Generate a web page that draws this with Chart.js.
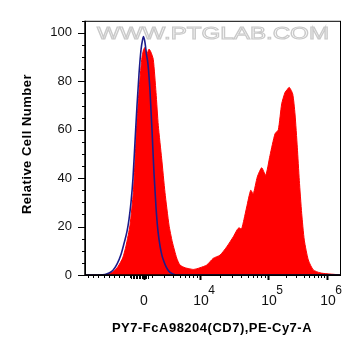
<!DOCTYPE html>
<html>
<head>
<meta charset="utf-8">
<script src="https://cdn.jsdelivr.net/npm/chart.js@4/dist/chart.umd.min.js"></script>
<style>
  html, body { margin: 0; padding: 0; background: #fff; }
  #wrap { width: 361px; height: 356px; position: relative; }
</style>
</head>
<body>
<div id="wrap"><canvas id="c"></canvas></div>
<script>
// ---- data (x in display channels of the biexponential axis, y = relative cell number) ----
const sampleChannels = [0, 20, 23, 28.3, 33, 37.7, 41, 45, 48.3, 50, 51.7, 54, 56.7, 58.5, 60, 62, 64, 66, 68.3, 71, 73.3, 76.7, 80, 84, 87.3, 91.7, 95, 100, 104, 108.3, 112, 115, 121.7, 128.3, 135, 141.7, 148.3, 152.3, 154, 156.5, 159, 161.7, 165.7, 168.3, 172.3, 176.7, 180.7, 185, 190, 193.3, 196.7, 200, 202, 204.3, 207.7, 210, 212.3, 214.3, 216.7, 219.3, 223.3, 228.3, 235, 242, 251, 256];
const sampleCounts   = [0, 0, 0.3, 1.4, 3.5, 7, 12, 20.6, 34, 47, 61.7, 76, 89, 93, 94, 91.5, 93.3, 92, 89, 75.4, 61.7, 48, 34, 20.6, 13.7, 7, 4.1, 3.0, 2.6, 2.3, 2.6, 3.0, 4.1, 6.9, 8.2, 11.6, 15.8, 18.8, 19.5, 19, 23, 28.1, 35, 33.6, 40.5, 44.3, 41.2, 49.4, 58.3, 60, 70.7, 75.4, 76.5, 77.5, 74.8, 66.5, 52.8, 39.1, 25.4, 14.4, 6.2, 2.1, 0.9, 0.5, 0.2, 0];

const controlChannels = [0, 15, 20, 24, 28, 32, 36, 39, 42, 44, 46, 48, 50, 52, 54, 56, 57.5, 58.5, 60, 61.5, 63, 65, 67, 69, 71, 73, 75, 77, 79, 81, 84, 88, 92, 256];
const controlCounts   = [0, 0, 0.2, 0.8, 2, 4.5, 8.5, 13, 18, 23, 30, 40, 55, 70, 83, 93, 97, 98.5, 96, 91, 87, 76, 60, 42, 28, 18, 12, 8, 5.5, 3.5, 1.5, 0.4, 0, 0];

const xTickChannels  = [59, 115, 183, 242];
const xTickBase      = ['0', '10', '10', '10'];
const xTickExponent  = ['', '4', '5', '6'];
const yTicks         = [0, 20, 40, 60, 80, 100];

const xTitle = 'PY7-FcA98204(CD7),PE-Cy7-A';
const yTitle = 'Relative Cell Number';
const watermark = 'WWW.PTGLAB.COM';

const toXY = (xs, ys) => xs.map((x, i) => ({ x: x, y: ys[i] }));

const FONT = '"Liberation Sans", Arial, sans-serif';

const decorPlugin = {
  id: 'decor',
  beforeDatasetsDraw(chart) {
    const { ctx, chartArea: a } = chart;
    ctx.save();
    // watermark
    ctx.font = '17px ' + FONT;
    const w = ctx.measureText(watermark).width;
    const targetW = 232;
    ctx.translate(a.left + 12, a.top + 18);
    ctx.scale(targetW / w, 1);
    ctx.textBaseline = 'alphabetic';
    ctx.fillStyle = '#ffffff';
    ctx.strokeStyle = '#c9c9c9';
    ctx.lineWidth = 1;
    ctx.fillText(watermark, 0, 0);
    ctx.strokeText(watermark, 0, 0);
    ctx.restore();
  },
  afterDraw(chart) {
    const { ctx, chartArea: a, scales } = chart;
    const xs = scales.x, ys = scales.y;
    ctx.save();
    ctx.strokeStyle = '#000';
    ctx.lineWidth = 1;
    // frame
    ctx.strokeRect(a.left + 0.5, a.top + 0.5, a.right - a.left - 1, a.bottom - a.top);
    ctx.lineWidth = 1.5;
    ctx.beginPath();
    ctx.moveTo(a.left, a.bottom); ctx.lineTo(a.right, a.bottom);
    ctx.moveTo(a.left, a.top); ctx.lineTo(a.left, a.bottom);
    ctx.stroke();

    // y ticks (major every 20, minor every 5)
    ctx.lineWidth = 1;
    ctx.beginPath();
    for (let v = 0; v <= ys.max; v += 5) {
      const py = Math.round(ys.getPixelForValue(v)) + 0.5;
      const len = (v % 20 === 0) ? 7 : 3;
      ctx.moveTo(a.left - len, py); ctx.lineTo(a.left, py);
    }
    ctx.stroke();

    // x ticks
    const tick = (ch, len, w) => {
      const px = Math.round(xs.getPixelForValue(ch)) + 0.5;
      ctx.lineWidth = w;
      ctx.beginPath();
      ctx.moveTo(px, a.bottom); ctx.lineTo(px, a.bottom + len);
      ctx.stroke();
    };
    // negative (linear) region
    for (let ch = 3; ch < 46; ch += 5.2) tick(ch, 3, 1);
    // dense region around zero
    for (let ch = 46; ch <= 63; ch += 1.5) tick(ch, 4, 1);
    // log-spaced minor ticks below 10^4 and in the upper decades
    const d = xTickChannels;
    for (let k = 2; k <= 9; k++) {
      tick(d[1] - (d[2] - d[1]) * (1 - Math.log10(k)), 3, 1);
      tick(d[1] + (d[2] - d[1]) * Math.log10(k), 3, 1);
      tick(d[2] + (d[3] - d[2]) * Math.log10(k), 3, 1);
    }
    for (let i = 0; i < d.length; i++) tick(d[i], 5, 2);

    // x tick labels
    ctx.fillStyle = '#111';
    ctx.textBaseline = 'alphabetic';
    for (let i = 0; i < d.length; i++) {
      const px = xs.getPixelForValue(d[i]);
      ctx.font = '14px ' + FONT;
      const bw = ctx.measureText(xTickBase[i]).width;
      ctx.textAlign = 'left';
      const x0 = xTickExponent[i] ? px - bw / 2 + 1 : px - bw / 2;
      ctx.fillText(xTickBase[i], x0, a.bottom + 30);
      if (xTickExponent[i]) {
        ctx.font = '12px ' + FONT;
        ctx.fillText(xTickExponent[i], x0 + bw - 0.5, a.bottom + 19);
      }
    }

    // axis titles
    ctx.fillStyle = '#000';
    ctx.font = 'bold 13px ' + FONT;
    ctx.letterSpacing = '0.5px';
    ctx.textAlign = 'center';
    ctx.textBaseline = 'middle';
    ctx.fillText(xTitle, 212, 328);
    ctx.translate(27, 144);
    ctx.rotate(-Math.PI / 2);
    ctx.fillText(yTitle, 0, 0);
    ctx.restore();
  }
};

new Chart(document.getElementById('c'), {
  type: 'line',
  data: {
    datasets: [
      {
        label: 'Control',
        data: toXY(controlChannels, controlCounts),
        borderColor: '#1c1c8a',
        borderWidth: 1.6,
        backgroundColor: 'rgba(0,0,0,0)',
        fill: false,
        pointRadius: 0,
        tension: 0.35,
        cubicInterpolationMode: 'monotone',
        order: 0
      },
      {
        label: 'CD7',
        data: toXY(sampleChannels, sampleCounts),
        borderColor: '#ff0000',
        borderWidth: 1,
        backgroundColor: '#ff0000',
        fill: 'origin',
        pointRadius: 0,
        tension: 0.2,
        order: 1
      }
    ]
  },
  options: {
    responsive: true,
    maintainAspectRatio: false,
    animation: false,
    events: [],
    layout: { padding: { top: 20, right: 20, left: 0, bottom: 0 } },
    plugins: { legend: { display: false }, tooltip: { enabled: false } },
    scales: {
      x: {
        type: 'linear', min: 0, max: 256,
        grid: { display: false, drawTicks: false },
        border: { display: false },
        ticks: { display: false },
        afterFit(s) { s.height = 81; }
      },
      y: {
        type: 'linear', min: 0, max: 105,
        grid: { display: false, drawTicks: false },
        border: { display: false },
        afterBuildTicks(s) { s.ticks = yTicks.map(v => ({ value: v })); },
        ticks: {
          padding: 13,
          color: '#111',
          font: { family: FONT, size: 13 },
          callback: v => String(v)
        },
        afterFit(s) { s.width = 85; }
      }
    }
  },
  plugins: [decorPlugin]
});
</script>
</body>
</html>
